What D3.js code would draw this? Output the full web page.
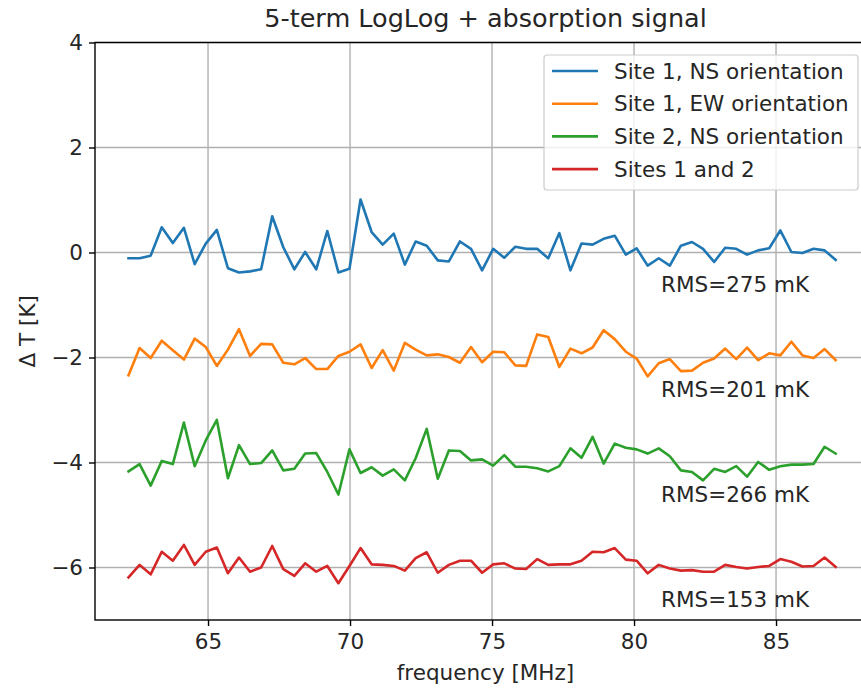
<!DOCTYPE html>
<html>
<head>
<meta charset="utf-8">
<script src="https://cdn.jsdelivr.net/npm/d3@7"></script>
<style>
  html, body { margin: 0; padding: 0; background: #fff; }
  svg { display: block; font-family: "DejaVu Sans", sans-serif; }
</style>
</head>
<body>
<svg id="chart" width="861" height="690"></svg>
<script>
const title = "5-term LogLog + absorption signal";
const xLabel = "frequency [MHz]";
const yLabel = "\u0394 T [K]";
const xTicks = [65, 70, 75, 80, 85];
const yTicks = [-6, -4, -2, 0, 2, 4];
const xDomain = [61.02, 88.52];
const yDomain = [-7, 4];

const freq = [62.20, 62.59, 62.98, 63.37, 63.76, 64.15, 64.53, 64.92, 65.31, 65.70,
  66.09, 66.48, 66.87, 67.26, 67.65, 68.04, 68.42, 68.81, 69.20, 69.59,
  69.98, 70.37, 70.76, 71.15, 71.54, 71.93, 72.31, 72.70, 73.09, 73.48,
  73.87, 74.26, 74.65, 75.04, 75.43, 75.82, 76.20, 76.59, 76.98, 77.37,
  77.76, 78.15, 78.54, 78.93, 79.32, 79.71, 80.09, 80.48, 80.87, 81.26,
  81.65, 82.04, 82.43, 82.82, 83.21, 83.60, 83.98, 84.37, 84.76, 85.15,
  85.54, 85.93, 86.32, 86.71, 87.10];

const seriesNames = ["Site 1, NS orientation", "Site 1, EW orientation", "Site 2, NS orientation", "Sites 1 and 2"];
const seriesColors = ["#1f77b4", "#ff7f0e", "#2ca02c", "#d62728"];

const site1NS = [-0.11, -0.11, -0.06, 0.48, 0.18, 0.47, -0.22, 0.17, 0.43, -0.30,
  -0.38, -0.36, -0.32, 0.69, 0.10, -0.32, 0.01, -0.32, 0.41, -0.38,
  -0.31, 1.01, 0.39, 0.15, 0.36, -0.23, 0.21, 0.13, -0.15, -0.17,
  0.21, 0.07, -0.34, 0.07, -0.10, 0.11, 0.07, 0.07, -0.11, 0.37,
  -0.34, 0.17, 0.15, 0.26, 0.32, -0.04, 0.08, -0.25, -0.11, -0.25,
  0.13, 0.20, 0.07, -0.18, 0.09, 0.07, -0.04, 0.04, 0.08, 0.42,
  0.01, -0.01, 0.07, 0.04, -0.14];

const site1EW = [-2.34, -1.82, -2.01, -1.68, -1.86, -2.04, -1.64, -1.80, -2.16, -1.85,
  -1.46, -1.97, -1.74, -1.75, -2.10, -2.13, -2.01, -2.22, -2.22, -1.97,
  -1.89, -1.75, -2.20, -1.86, -2.25, -1.72, -1.85, -1.96, -1.94, -1.99,
  -2.10, -1.80, -2.09, -1.89, -1.90, -2.15, -2.16, -1.56, -1.61, -2.18,
  -1.83, -1.92, -1.81, -1.48, -1.65, -1.89, -2.02, -2.36, -2.11, -2.03,
  -2.26, -2.25, -2.10, -2.02, -1.83, -2.03, -1.81, -2.05, -1.92, -1.96,
  -1.70, -1.96, -2.01, -1.84, -2.05];

const site2NS = [-4.17, -4.03, -4.44, -3.97, -4.03, -3.24, -4.07, -3.58, -3.19, -4.30,
  -3.67, -4.03, -4.01, -3.77, -4.15, -4.12, -3.83, -3.82, -4.18, -4.61,
  -3.75, -4.20, -4.09, -4.25, -4.13, -4.34, -3.92, -3.36, -4.31, -3.77,
  -3.78, -3.96, -3.94, -4.06, -3.86, -4.08, -4.08, -4.11, -4.17, -4.07,
  -3.73, -3.91, -3.51, -4.02, -3.64, -3.72, -3.75, -3.83, -3.73, -3.88,
  -4.15, -4.18, -4.34, -4.12, -4.18, -4.07, -4.27, -3.99, -4.14, -4.07,
  -4.04, -4.04, -4.03, -3.70, -3.83];

const sites12 = [-6.19, -5.95, -6.13, -5.70, -5.87, -5.57, -5.95, -5.70, -5.62, -6.11,
  -5.81, -6.08, -6.00, -5.59, -6.03, -6.16, -5.92, -6.08, -5.97, -6.30,
  -5.97, -5.63, -5.94, -5.95, -5.97, -6.06, -5.82, -5.71, -6.10, -5.95,
  -5.87, -5.87, -6.10, -5.94, -5.92, -6.02, -6.03, -5.84, -5.95, -5.94,
  -5.94, -5.87, -5.70, -5.71, -5.63, -5.85, -5.87, -6.11, -5.95, -6.02,
  -6.06, -6.05, -6.08, -6.08, -5.95, -5.99, -6.02, -5.99, -5.97, -5.84,
  -5.89, -5.98, -5.97, -5.81, -5.99];

const rmsLabels = ["RMS=275 mK", "RMS=201 mK", "RMS=266 mK", "RMS=153 mK"];
const rmsX = [80.95, 80.95, 80.95, 80.95];
const rmsY = [-0.6, -2.6, -4.6, -6.6];

const allSeries = [site1NS, site1EW, site2NS, sites12];

const svg = d3.select("#chart");
const pLeft = 95, pRight = 876, pTop = 42.5, pBottom = 620;

const x = d3.scaleLinear().domain(xDomain).range([pLeft, pRight]);
const y = d3.scaleLinear().domain(yDomain).range([pBottom, pTop]);

const fontSize = 21.5;
const titleSize = 25.5;
const textColor = "#262626";

// grid
const grid = svg.append("g");
grid.selectAll(".gx").data(xTicks).enter().append("line")
  .attr("x1", d => x(d)).attr("x2", d => x(d))
  .attr("y1", pTop).attr("y2", pBottom)
  .attr("stroke", "#b0b0b0").attr("stroke-width", 1.4);
grid.selectAll(".gy").data(yTicks).enter().append("line")
  .attr("x1", pLeft).attr("x2", pRight)
  .attr("y1", d => y(d)).attr("y2", d => y(d))
  .attr("stroke", "#b0b0b0").attr("stroke-width", 1.4);

// lines
const line = d3.line().x((d, i) => x(freq[i])).y(d => y(d));
allSeries.forEach((s, k) => {
  svg.append("path").datum(s)
    .attr("d", line)
    .attr("fill", "none")
    .attr("stroke", seriesColors[k])
    .attr("stroke-width", 2.6)
    .attr("stroke-linejoin", "round")
    .attr("stroke-linecap", "square");
});

// RMS labels
svg.selectAll(".rms").data(rmsLabels).enter().append("text")
  .attr("x", (d, i) => x(rmsX[i]))
  .attr("y", (d, i) => y(rmsY[i]))
  .attr("dy", "0.36em")
  .attr("font-size", fontSize)
  .attr("fill", textColor)
  .text(d => d);

// axes
const xAxis = d3.axisBottom(x).tickValues(xTicks).tickSize(6).tickPadding(8).tickFormat(d3.format("d"));
const yAxis = d3.axisLeft(y).tickValues(yTicks).tickSize(6).tickPadding(6).tickFormat(d => d < 0 ? "\u2212" + Math.abs(d) : d);

const gx = svg.append("g").attr("transform", `translate(0,${pBottom})`).call(xAxis);
const gy = svg.append("g").attr("transform", `translate(${pLeft},0)`).call(yAxis);
[gx, gy].forEach(g => {
  g.select(".domain").remove();
  g.selectAll(".tick line").attr("stroke", "#000").attr("stroke-width", 1.4);
  g.selectAll(".tick text").attr("font-size", fontSize).attr("fill", textColor)
    .attr("font-family", "DejaVu Sans, sans-serif");
});

// spines
svg.append("rect")
  .attr("x", pLeft).attr("y", pTop)
  .attr("width", pRight - pLeft).attr("height", pBottom - pTop)
  .attr("fill", "none").attr("stroke", "#000").attr("stroke-width", 1.4);

// title and labels
svg.append("text").attr("x", (pLeft + pRight) / 2).attr("y", 27)
  .attr("text-anchor", "middle").attr("font-size", titleSize).attr("fill", textColor).text(title);
svg.append("text").attr("x", (pLeft + pRight) / 2).attr("y", 680)
  .attr("text-anchor", "middle").attr("font-size", fontSize).attr("fill", textColor).text(xLabel);
svg.append("text").attr("transform", `translate(35,${(pTop + pBottom) / 2}) rotate(-90)`)
  .attr("text-anchor", "middle").attr("font-size", fontSize).attr("fill", textColor).text(yLabel);

// legend
const lg = svg.append("g");
lg.append("rect")
  .attr("x", 544).attr("y", 55).attr("width", 314).attr("height", 135)
  .attr("rx", 3).attr("ry", 3)
  .attr("fill", "#fff").attr("fill-opacity", 0.8)
  .attr("stroke", "#cccccc").attr("stroke-width", 1.2);
const rows = lg.selectAll(".row").data(seriesNames).enter().append("g")
  .attr("transform", (d, i) => `translate(0,${71 + i * 32.7})`);
rows.append("line")
  .attr("x1", 552).attr("x2", 598).attr("y1", 0).attr("y2", 0)
  .attr("stroke", (d, i) => seriesColors[i]).attr("stroke-width", 2.6);
rows.append("text")
  .attr("x", 614).attr("y", 0).attr("dy", "0.36em")
  .attr("font-size", fontSize).attr("fill", textColor)
  .text(d => d);
</script>
</body>
</html>
